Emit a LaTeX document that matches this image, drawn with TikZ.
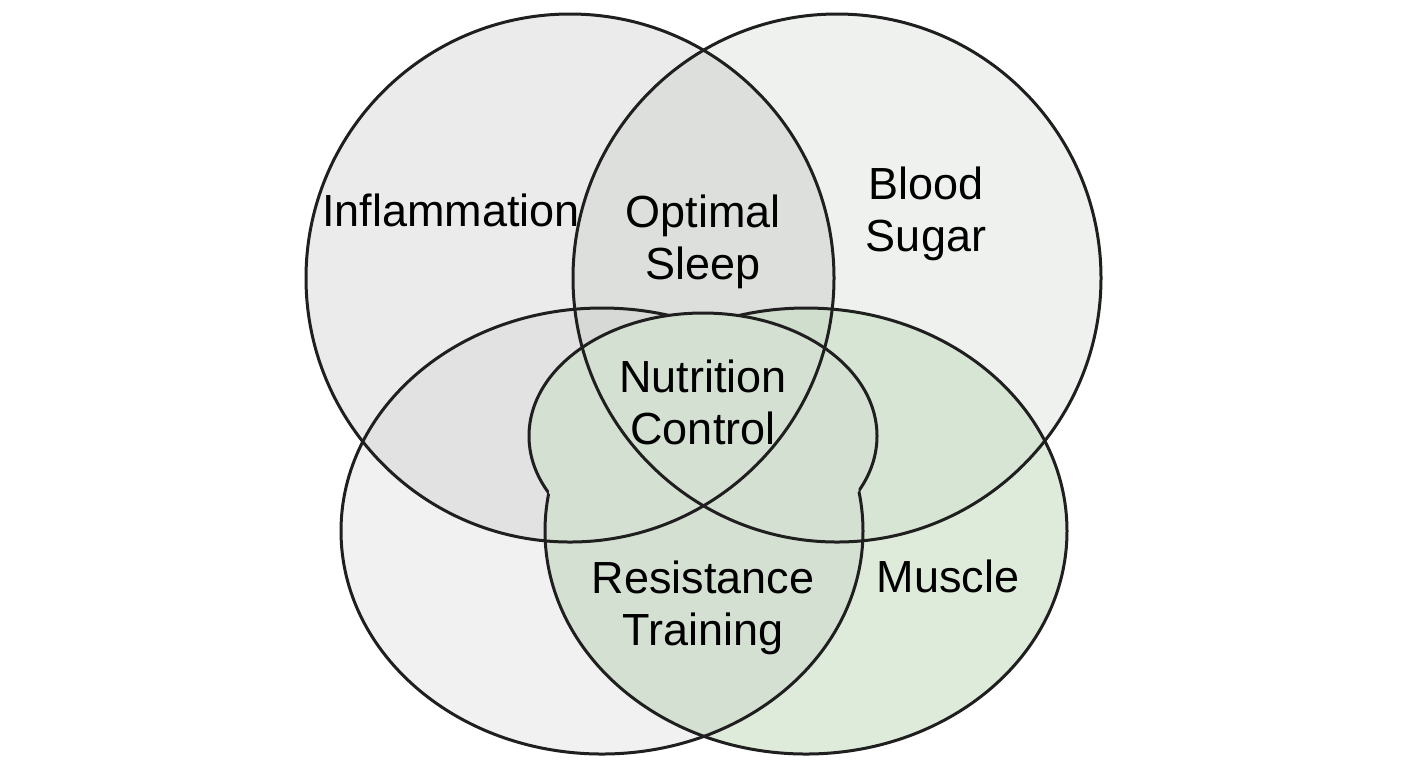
\documentclass[tikz,border=0pt]{standalone}
\usepackage{fontspec}
\setmainfont{Liberation Sans}
\begin{document}
\begin{tikzpicture}[x=0.5pt,y=-0.5pt,
  outline/.style={draw=black!88,line width=1.5pt},
  lbl/.style={font=\fontsize{22.5}{26}\selectfont,align=center,text=black,inner sep=0pt},
]
\definecolor{tlc}{RGB}{120,120,120}
\definecolor{trc}{RGB}{110,132,116}
\definecolor{blc}{RGB}{200,200,200}
\definecolor{brc}{RGB}{200,222,195}
\definecolor{blobc}{RGB}{212,224,209}
\useasboundingbox (0,0) rectangle (1408,768);
\fill[white] (0,0) rectangle (1408,768);
% fills
\fill[tlc,fill opacity=0.14] (570,278) circle[radius=264];
\fill[trc,fill opacity=0.11] (837,278) circle[radius=264];
\fill[blc,fill opacity=0.25] (602,531) ellipse[x radius=261,y radius=223];
\fill[brc,fill opacity=0.6] (806,531) ellipse[x radius=261,y radius=223];
% central blob
\fill[blobc] (703,436) ellipse[x radius=174,y radius=123];
\draw[outline] (703,436) ellipse[x radius=174,y radius=123];
% lower lens (hides lower arc of blob)
\begin{scope}
  \clip (602,531) ellipse[x radius=261,y radius=223];
  \fill[blobc] (806,531) ellipse[x radius=261,y radius=223];
\end{scope}
% bottom ellipse outlines outside blob
\begin{scope}[even odd rule]
  \clip (-10,-10) rectangle (1420,780) (703,436) ellipse[x radius=174,y radius=123];
  \draw[outline] (602,531) ellipse[x radius=261,y radius=223];
  \draw[outline] (806,531) ellipse[x radius=261,y radius=223];
\end{scope}
% top circles
\draw[outline] (570,278) circle[radius=264];
\draw[outline] (837,278) circle[radius=264];
% labels
\node[lbl] (infl) at (451,210) {Inflammation};
\node[lbl] (sleep) at (703,242) {Optimal\\Sleep};
\node[lbl] (sugar) at (926,214) {Blood\\Sugar};
\node[lbl] (nutr) at (703,402) {Nutrition\\Control};
\node[lbl] (resist) at (703,608) {Resistance\\Training};
\node[lbl] (muscle) at (948,576) {Muscle};
\end{tikzpicture}
\end{document}
